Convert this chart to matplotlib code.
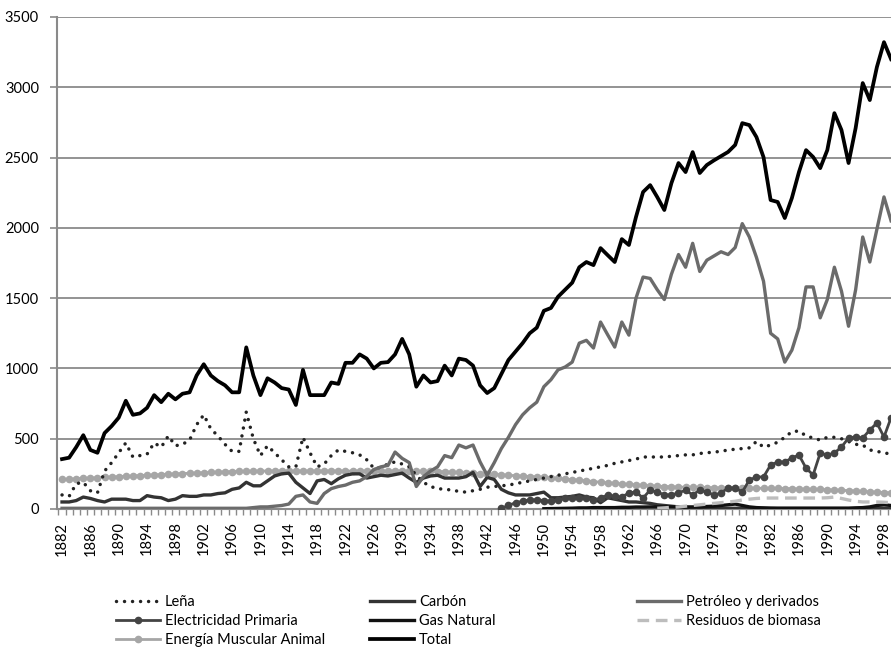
import matplotlib
matplotlib.use("Agg")
import matplotlib.pyplot as plt
import numpy as np
from matplotlib.lines import Line2D

plt.rcParams['font.family'] = ['Lato', 'DejaVu Sans']

years = list(range(1882, 2000))

total = [355, 365, 440, 525, 420, 400, 540, 590, 650, 770,
         670, 680, 720, 810, 760, 820, 780, 820, 830, 950,
         1030, 950, 910, 880, 830, 830, 1150, 950, 810, 930,
         900, 860, 850, 740, 990, 810, 810, 810, 900, 890,
         1040, 1040, 1100, 1070, 1000, 1040, 1045, 1100, 1210, 1100,
         870, 950, 900, 910, 1020, 950, 1070, 1060, 1020, 880,
         825, 860, 960, 1060, 1120, 1180, 1250, 1290, 1410, 1430,
         1510, 1560, 1610, 1720, 1757, 1735, 1856, 1806, 1757, 1920,
         1878, 2077, 2255, 2304, 2219, 2127, 2318, 2461, 2397, 2539,
         2390, 2447, 2480, 2510, 2540, 2590, 2745, 2731, 2646, 2503,
         2198, 2184, 2070, 2212, 2397, 2553, 2504, 2425, 2553, 2816,
         2696, 2461, 2710, 3030, 2909, 3144, 3321, 3200]

lena = [100, 90, 180, 190, 130, 115, 270, 330, 400, 470,
        370, 380, 390, 470, 440, 520, 450, 460, 490, 600,
        670, 570, 520, 460, 410, 410, 690, 500, 380, 450,
        400, 350, 300, 300, 510, 400, 300, 320, 380, 420,
        410, 400, 385, 350, 290, 295, 320, 335, 320, 300,
        240, 190, 160, 145, 140, 135, 125, 120, 130, 140,
        155, 160, 165, 170, 180, 190, 200, 210, 220, 230,
        240, 250, 260, 270, 280, 290, 300, 310, 325, 335,
        345, 355, 370, 370, 370, 370, 375, 380, 385, 385,
        395, 400, 405, 410, 420, 425, 430, 435, 480, 440,
        455, 475, 510, 550, 555, 520, 505, 490, 510, 510,
        500, 480, 460, 455, 420, 410, 400, 390]

carbon = [50, 50, 60, 85, 75, 60, 50, 70, 70, 70,
          60, 60, 95, 85, 80, 60, 70, 95, 90, 90,
          100, 100, 110, 115, 140, 150, 190, 165, 165, 200,
          235, 250, 255, 190, 150, 110, 200, 210, 180, 215,
          240, 250, 250, 220, 230, 240, 235, 245, 255, 220,
          190, 220, 235, 240, 220, 220, 220, 230, 260, 160,
          225, 210, 140, 115, 100, 100, 100, 110, 120, 80,
          80, 85, 90, 100, 85, 80, 45, 80, 70, 60,
          50, 50, 45, 40, 30, 25, 20, 15, 10, 8,
          5, 5, 5, 5, 5, 5, 5, 5, 5, 5,
          5, 5, 5, 5, 5, 5, 5, 5, 5, 5,
          5, 5, 5, 5, 5, 5, 5, 5]

petroleo = [5, 5, 5, 5, 5, 5, 5, 5, 5, 5,
            5, 5, 5, 5, 5, 5, 5, 5, 5, 5,
            5, 5, 5, 5, 5, 5, 5, 10, 15, 15,
            20, 25, 35, 90, 100, 50, 40, 110, 145, 160,
            170, 190, 200, 230, 280, 300, 310, 405, 360, 330,
            160, 230, 270, 300, 380, 365, 455, 435, 455, 335,
            240, 330, 430, 510, 600, 670, 720, 760, 870, 920,
            990, 1010, 1045, 1180, 1200, 1145, 1330, 1240, 1152, 1330,
            1237, 1500, 1650, 1640, 1560, 1490, 1670, 1810, 1720, 1890,
            1690, 1770, 1800, 1830, 1810, 1860, 2030, 1935, 1790, 1620,
            1250, 1210, 1045, 1130, 1290, 1580, 1580, 1360, 1490, 1720,
            1550, 1300, 1560, 1935, 1757, 1990, 2220, 2050]

elec_years = list(range(1944, 2000))
electricidad = [5, 25, 45, 55, 65, 65, 60, 55, 65, 75,
                80, 80, 75, 64, 78, 100, 90, 85, 114, 121,
                78, 135, 121, 100, 100, 114, 135, 100, 135, 120,
                100, 114, 149, 149, 121, 206, 228, 228, 313, 334,
                334, 363, 384, 291, 242, 398, 384, 398, 441, 505,
                512, 505, 562, 612, 512, 650]

gas_years = list(range(1950, 2000))
gas = [2, 3, 4, 5, 6, 8, 8, 10, 10, 10,
       10, 12, 12, 14, 14, 15, 15, 15, 15, 15,
       15, 15, 15, 18, 20, 25, 30, 35, 25, 15,
       10, 8, 6, 5, 5, 5, 5, 5, 5, 5,
       5, 5, 5, 5, 8, 10, 15, 25, 30, 25]

res_years = list(range(1966, 2000))
residuos = [5, 8, 12, 15, 20, 25, 30, 35, 40, 45,
            50, 55, 64, 70, 75, 78, 78, 78, 78, 78,
            78, 78, 78, 78, 80, 85, 75, 64, 55, 50,
            50, 50, 48, 45]

muscular = [210, 212, 215, 218, 220, 222, 225, 228, 230, 232,
            235, 238, 240, 242, 245, 248, 250, 252, 254, 256,
            258, 260, 262, 264, 266, 267, 268, 269, 270, 270,
            270, 270, 270, 270, 270, 270, 270, 270, 270, 270,
            270, 270, 270, 270, 270, 270, 270, 270, 270, 269,
            268, 268, 267, 266, 265, 262, 260, 257, 255, 252,
            250, 247, 244, 240, 237, 234, 231, 228, 225, 221,
            217, 213, 209, 205, 200, 195, 190, 186, 182, 178,
            175, 172, 168, 165, 162, 160, 158, 156, 155, 154,
            153, 152, 151, 150, 150, 149, 149, 148, 148, 147,
            147, 146, 145, 144, 142, 141, 140, 139, 137, 135,
            133, 131, 128, 125, 122, 120, 117, 115]

tick_years = list(range(1882, 1999, 4))

fig = plt.figure(figsize=(8.91, 6.5), dpi=100)
ax = fig.add_axes([57/891, 141/650, (891-57)/891, 492/650])

grid_c = '#8a8a8a'
for v in range(500, 3501, 500):
    ax.axhline(v, color=grid_c, lw=1.3, zorder=0)

dot_style = (0, (0.01, 2.3))
res_style = (0, (3.5, 2.0))

styles = {
    'Leña': dict(color='#222222', lw=2.5, linestyle=dot_style, dash_capstyle='round'),
    'Carbón': dict(color='#333333', lw=2.4),
    'Petróleo y derivados': dict(color='#6b6b6b', lw=2.4),
    'Electricidad Primaria': dict(color='#444444', lw=2.0, marker='o', ms=4.5),
    'Gas Natural': dict(color='#111111', lw=2.4),
    'Residuos de biomasa': dict(color='#bdbdbd', lw=2.4, linestyle=res_style),
    'Energía Muscular Animal': dict(color='#a6a6a6', lw=2.0, marker='o', ms=4.5),
    'Total': dict(color='#000000', lw=2.7),
}

ax.plot(years, lena, zorder=3, **styles['Leña'])
ax.plot(years, carbon, zorder=3, **styles['Carbón'])
ax.plot(years, petroleo, zorder=3, **styles['Petróleo y derivados'])
ax.plot(elec_years, electricidad, zorder=3, **styles['Electricidad Primaria'])
ax.plot(gas_years, gas, zorder=3, **styles['Gas Natural'])
ax.plot(res_years, residuos, zorder=3, **styles['Residuos de biomasa'])
ax.plot(years, muscular, zorder=2, **styles['Energía Muscular Animal'])
ax.plot(years, total, zorder=4, **styles['Total'])

ax.set_xlim(1881.29, 1998.99)
ax.set_ylim(0, 3500)
ax.set_yticks(range(0, 3501, 500))
ax.set_xticks(tick_years)
ax.set_xticklabels([str(y) for y in tick_years], rotation=90, fontsize=10.5)
ax.set_xticks([y - 0.5 for y in range(1882, 2000)], minor=True)
ax.tick_params(axis='x', which='major', length=0, pad=9)
ax.tick_params(axis='x', which='minor', length=4, color=grid_c, width=1)
ax.tick_params(axis='y', length=5, color=grid_c, width=1.2, pad=8, labelsize=10.5)

for s in ['top', 'right']:
    ax.spines[s].set_visible(False)
ax.spines['left'].set_color(grid_c)
ax.spines['left'].set_linewidth(1.5)
ax.spines['bottom'].set_color(grid_c)
ax.spines['bottom'].set_linewidth(1.5)

cols = [['Leña', 'Electricidad Primaria', 'Energía Muscular Animal'],
        ['Carbón', 'Gas Natural', 'Total'],
        ['Petróleo y derivados', 'Residuos de biomasa']]
xs = [116, 370, 637]
for col, x in zip(cols, xs):
    hs = [Line2D([], [], **styles[lab]) for lab in col]
    fig.legend(hs, col, loc='upper left', bbox_to_anchor=(x/891, 1 - 595/650),
               frameon=False, fontsize=10.5, handlelength=3.0, handletextpad=0.35,
               labelspacing=0.35, borderaxespad=0, borderpad=0, numpoints=1)

fig.savefig('out.png', dpi=100)
